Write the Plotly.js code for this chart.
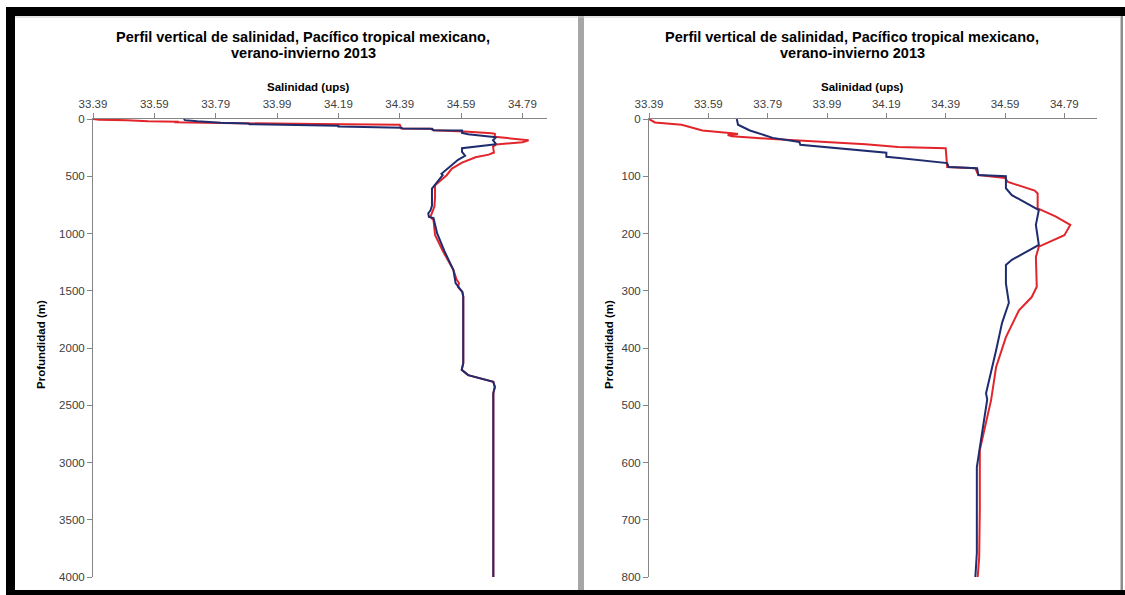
<!DOCTYPE html>
<html>
<head>
<meta charset="utf-8">
<script src="https://cdn.plot.ly/plotly-3.0.1.min.js"></script>
<style>
html,body{margin:0;padding:0;background:#fff;}
#chart{width:1125px;height:595px;}
</style>
</head>
<body>
<div id="chart"></div>
<script>
// ---- Data ----
const chartTitle = "Perfil vertical de salinidad, Pacífico tropical mexicano,";
const chartSubtitle = "verano-invierno 2013";
const xAxisTitle = "Salinidad (ups)";
const yAxisTitle = "Profundidad (m)";

const salTicks = [33.39, 33.59, 33.79, 33.99, 34.19, 34.39, 34.59, 34.79];
const salTickText = ["33.39", "33.59", "33.79", "33.99", "34.19", "34.39", "34.59", "34.79"];
const depthTicksDeep = [0, 500, 1000, 1500, 2000, 2500, 3000, 3500, 4000];
const depthTicksShallow = [0, 100, 200, 300, 400, 500, 600, 700, 800];

// red series
const depthRed = [0, 6, 10, 16, 20, 25, 26, 28, 30, 35, 44, 49, 51, 84, 86, 98, 103, 110, 125, 130, 156, 170, 185, 203, 223, 241, 293, 311, 334, 381, 433, 491, 578, 680, 765, 855, 882, 1013, 1150, 1320, 1400, 1433, 1470, 1510, 1550, 2133, 2190, 2237, 2295, 2340, 2394, 4000];
const salRed = [33.39, 33.41, 33.50, 33.54, 33.57, 33.67, 33.69, 33.655, 33.67, 33.807, 34.12, 34.23, 34.39, 34.395, 34.49, 34.50, 34.59, 34.60, 34.69, 34.70, 34.70, 34.76, 34.81, 34.79, 34.704, 34.694, 34.697, 34.68, 34.637, 34.593, 34.56, 34.543, 34.505, 34.505, 34.503, 34.49, 34.50, 34.505, 34.53, 34.565, 34.575, 34.583, 34.58, 34.594, 34.597, 34.597, 34.592, 34.613, 34.695, 34.70, 34.695, 34.695];

// blue series
const depthBlue = [0, 10, 20, 26, 33, 40, 45, 59, 66, 68, 77, 84, 86, 98, 100, 121, 133, 159, 185, 220, 246, 255, 287, 321, 356, 404, 461, 479, 490, 590, 608, 758, 800, 823, 855, 865, 1000, 1150, 1320, 1433, 1470, 1510, 1550, 2133, 2190, 2237, 2295, 2340, 2394, 4000];
const salBlue = [33.686, 33.69, 33.73, 33.763, 33.807, 33.897, 33.90, 34.19, 34.19, 34.233, 34.395, 34.40, 34.496, 34.50, 34.593, 34.593, 34.613, 34.704, 34.694, 34.704, 34.613, 34.593, 34.593, 34.603, 34.58, 34.56, 34.536, 34.526, 34.53, 34.50, 34.495, 34.495, 34.49, 34.483, 34.485, 34.50, 34.512, 34.535, 34.565, 34.572, 34.582, 34.594, 34.597, 34.597, 34.592, 34.613, 34.695, 34.70, 34.695, 34.695];

// ---- Layout helpers ----
const W = 1125, H = 595;
const px = v => v / W;
const py = v => 1 - v / H;
const FONT = "Liberation Sans, Arial, sans-serif";
const RED = "#e2252b", BLUE = "#1f2d6e";

function traces(xa, ya) {
  return [
    {x: salRed, y: depthRed, xaxis: xa, yaxis: ya, type: "scatter", mode: "lines",
     line: {color: RED, width: 2}, showlegend: false, hoverinfo: "skip"},
    {x: salBlue, y: depthBlue, xaxis: xa, yaxis: ya, type: "scatter", mode: "lines",
     line: {color: BLUE, width: 2}, showlegend: false, hoverinfo: "skip"}
  ];
}

function xAx(domain, rangeMax, anchor) {
  return {domain: domain, range: [33.39, rangeMax], side: "top", anchor: anchor,
    tickvals: salTicks, ticktext: salTickText, ticks: "outside", ticklen: 5,
    tickcolor: "#868686", showline: true, linecolor: "#868686", linewidth: 1,
    showgrid: false, zeroline: false, tickfont: {family: FONT, size: 11.5, color: "#404040"}};
}
function yAx(domain, rangeMax, ticks, anchor) {
  return {domain: domain, range: [rangeMax, 0], anchor: anchor,
    tickvals: ticks, ticktext: ticks.map(String), ticks: "outside", ticklen: 5,
    tickcolor: "#868686", showline: true, linecolor: "#868686", linewidth: 1,
    showgrid: false, zeroline: false, tickfont: {family: FONT, size: 11.5, color: "#404040"}};
}

const yDom = [py(577), py(119)];

function ann(text, x, y, size, angle) {
  return {text: text, x: px(x), y: py(y), xref: "paper", yref: "paper",
    showarrow: false, xanchor: "center", yanchor: "middle", textangle: angle || 0,
    font: {family: FONT, size: size, color: "#000"}};
}

const shapes = [
  // black frame
  {type: "rect", xref: "paper", yref: "paper", x0: px(6), x1: px(1125), y0: py(16), y1: py(7), fillcolor: "#000", line: {width: 0}},
  {type: "rect", xref: "paper", yref: "paper", x0: px(6), x1: px(15), y0: py(595), y1: py(7), fillcolor: "#000", line: {width: 0}},
  {type: "rect", xref: "paper", yref: "paper", x0: px(6), x1: px(1125), y0: py(595), y1: py(590), fillcolor: "#000", line: {width: 0}},
  // separators
  {type: "rect", xref: "paper", yref: "paper", x0: px(578), x1: px(584), y0: py(590), y1: py(16), fillcolor: "#a6a6a6", line: {width: 0}},
  {type: "rect", xref: "paper", yref: "paper", x0: px(1120.5), x1: px(1123), y0: py(590), y1: py(16), fillcolor: "#8c8c8c", line: {width: 0}},
  {type: "line", xref: "paper", yref: "paper", x0: px(15), x1: px(1121), y0: py(17), y1: py(17), line: {color: "#c8c8c8", width: 1}}
];

const data = [].concat(traces("x", "y"), traces("x2", "y2"));

const layout = {
  width: W, height: H,
  margin: {l: 0, r: 0, t: 0, b: 0},
  paper_bgcolor: "#fff", plot_bgcolor: "#fff",
  showlegend: false,
  xaxis: xAx([px(93), px(547)], 34.87, "y"),
  yaxis: yAx(yDom, 4000, depthTicksDeep, "x"),
  xaxis2: xAx([px(649), px(1097)], 34.90, "y2"),
  yaxis2: yAx(yDom, 800, depthTicksShallow, "x2"),
  shapes: shapes,
  annotations: [
    ann("<b>" + chartTitle + "</b>", 303, 37, 14.5),
    ann("<b>" + chartSubtitle + "</b>", 303, 53, 14.5),
    ann("<b>" + xAxisTitle + "</b>", 308, 87, 11.5),
    ann("<b>" + yAxisTitle + "</b>", 41, 345, 11.5, -90),
    ann("<b>" + chartTitle + "</b>", 852, 37, 14.5),
    ann("<b>" + chartSubtitle + "</b>", 852, 53, 14.5),
    ann("<b>" + xAxisTitle + "</b>", 862, 87, 11.5),
    ann("<b>" + yAxisTitle + "</b>", 609, 345, 11.5, -90)
  ]
};

Plotly.newPlot("chart", data, layout, {staticPlot: true, displayModeBar: false});
</script>
</body>
</html>
